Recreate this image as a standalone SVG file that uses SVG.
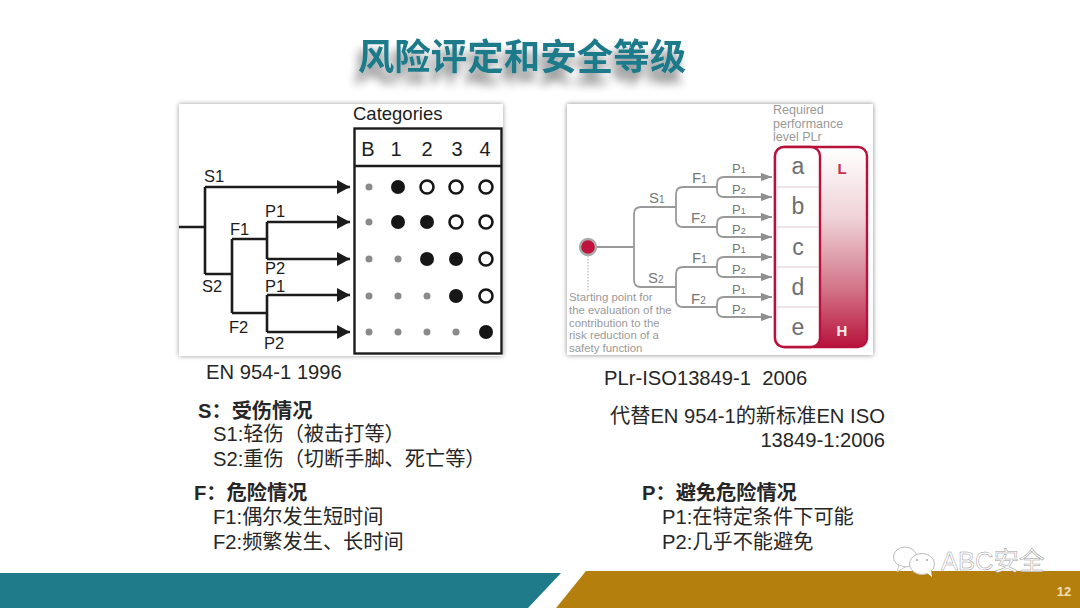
<svg xmlns="http://www.w3.org/2000/svg" width="1080" height="608" viewBox="0 0 1080 608">
<style>
.t{font-family:"Liberation Sans","Noto Sans CJK SC",sans-serif;fill:#262626;font-size:20.200px}
.b{font-weight:bold}
.l{font-family:"Liberation Sans",sans-serif;fill:#1c1c1c;font-size:16.500px}
.c{font-size:20px}
.k{fill:none;stroke:#1c1c1c;stroke-width:2.600}
.g{fill:none;stroke:#999;stroke-width:1.800}
.r{font-family:"Liberation Sans",sans-serif;fill:#6e6e6e;font-size:23px}
.s{font-family:"Liberation Sans",sans-serif;fill:#999;font-size:11.400px}
.q{font-family:"Liberation Sans",sans-serif;fill:#999;font-size:12.500px}
.d{fill:#8a8a8a}.f{fill:#161616}.o{fill:#fff;stroke:#161616;stroke-width:2.600}
</style>
<defs>
<filter id="bl" x="-10%" y="-10%" width="120%" height="120%"><feGaussianBlur stdDeviation="2.5"/></filter>
<filter id="tb" x="-10%" y="-60%" width="120%" height="240%"><feOffset in="SourceAlpha" dx="-4" dy="11"/><feGaussianBlur stdDeviation="5"/><feComponentTransfer result="sh"><feFuncA type="linear" slope=".5"/></feComponentTransfer><feMerge><feMergeNode in="sh"/><feMergeNode in="SourceGraphic"/></feMerge></filter>
<marker id="ka" markerUnits="userSpaceOnUse" markerWidth="13" markerHeight="14" refX="13" refY="7" orient="auto"><path d="M0 0L13 7L0 14Z" fill="#1c1c1c"/></marker>
<marker id="ga" markerUnits="userSpaceOnUse" markerWidth="11" markerHeight="8" refX="11" refY="4" orient="auto"><path d="M0 0L11 4L0 8Z" fill="#8f8f8f"/></marker>
<linearGradient id="pl" x1="0" y1="0" x2="0" y2="1"><stop offset="0" stop-color="#fff"/><stop offset=".35" stop-color="#efd3d8"/><stop offset=".7" stop-color="#d3778a"/><stop offset="1" stop-color="#b8123c"/></linearGradient>
</defs>
<rect width="1080" height="608" fill="#fff"/>
<g id="title">
<text x="522" y="70" text-anchor="middle" filter="url(#tb)" style="font-family:'Noto Sans CJK SC',sans-serif;font-size:36.500px;font-weight:bold;fill:#1f7a8a">风险评定和安全等级</text>
</g>
<g id="panel-left">
<rect x="179" y="104" width="324" height="252" fill="#999" filter="url(#bl)"/>
<rect x="179" y="104" width="324" height="252" fill="#fff"/>
<text class="l" x="353" y="120" style="font-size:18.500px">Categories</text>
<rect x="354.500" y="128.500" width="147" height="225" fill="#fff" stroke="#1c1c1c" stroke-width="2.400"/>
<path d="M354 166H502" stroke="#1c1c1c" stroke-width="2.400"/>
<g text-anchor="middle">
<text class="l c" x="368" y="156">B</text><text class="l c" x="396" y="156">1</text><text class="l c" x="427" y="156">2</text><text class="l c" x="457" y="156">3</text><text class="l c" x="485" y="156">4</text>
</g>
<g id="left-connectors">
<path class="k" d="M179 227H205M205 187V274M205 274H232M232 239V313M232 239H267M232 313H267"/>
<path class="k" d="M267 222V259M267 295V332"/>
<path class="k" marker-end="url(#ka)" d="M205 187H350"/>
<path class="k" marker-end="url(#ka)" d="M267 222H350"/>
<path class="k" marker-end="url(#ka)" d="M267 259H350"/>
<path class="k" marker-end="url(#ka)" d="M267 295H350"/>
<path class="k" marker-end="url(#ka)" d="M267 332H350"/>
</g>
<text class="l" x="204" y="182">S1</text><text class="l" x="202" y="292">S2</text>
<text class="l" x="230" y="235">F1</text><text class="l" x="229" y="333">F2</text>
<text class="l" x="265" y="217">P1</text><text class="l" x="265" y="274">P2</text>
<text class="l" x="265" y="292">P1</text><text class="l" x="264" y="349">P2</text>
<g id="dots">
<circle class="d" cx="369" cy="187" r="3.500"/><circle class="f" cx="398" cy="187" r="7"/><circle class="o" cx="427" cy="187" r="6.500"/><circle class="o" cx="456" cy="187" r="6.500"/><circle class="o" cx="486" cy="187" r="6.500"/>
<circle class="d" cx="369" cy="222" r="3.500"/><circle class="f" cx="398" cy="222" r="7"/><circle class="f" cx="427" cy="222" r="7"/><circle class="o" cx="456" cy="222" r="6.500"/><circle class="o" cx="486" cy="222" r="6.500"/>
<circle class="d" cx="369" cy="259" r="3.500"/><circle class="d" cx="398" cy="259" r="3.500"/><circle class="f" cx="427" cy="259" r="7"/><circle class="f" cx="456" cy="259" r="7"/><circle class="o" cx="486" cy="259" r="6.500"/>
<circle class="d" cx="369" cy="296" r="3.500"/><circle class="d" cx="398" cy="296" r="3.500"/><circle class="d" cx="427" cy="296" r="3.500"/><circle class="f" cx="456" cy="296" r="7"/><circle class="o" cx="486" cy="296" r="6.500"/>
<circle class="d" cx="369" cy="332" r="3.500"/><circle class="d" cx="398" cy="332" r="3.500"/><circle class="d" cx="427" cy="332" r="3.500"/><circle class="d" cx="456" cy="332" r="3.500"/><circle class="f" cx="486" cy="332" r="7"/>
</g>
</g>
<g id="panel-right">
<rect x="567" y="104" width="306" height="251" fill="#888" filter="url(#bl)"/>
<rect x="567" y="104" width="306" height="251" fill="#fff"/>
<text class="q" x="773" y="114">Required</text><text class="q" x="773" y="128">performance</text><text class="q" x="773" y="141">level PLr</text>
<rect x="775" y="147" width="92" height="200" rx="9" fill="url(#pl)" stroke="#b8123c" stroke-width="2.400"/>
<rect x="775" y="147" width="45" height="200" rx="9" fill="#fff" stroke="#b8123c" stroke-width="2.400"/>
<path d="M776 187H819M776 227H819M776 267H819M776 307H819" stroke="#e3c5cb" stroke-width="1"/>
<g text-anchor="middle">
<text class="r" x="798" y="174">a</text><text class="r" x="798" y="214">b</text><text class="r" x="798" y="255">c</text><text class="r" x="798" y="295">d</text><text class="r" x="798" y="335">e</text>
</g>
<text x="842" y="174" text-anchor="middle" style="font-family:'Liberation Sans',sans-serif;font-size:15px;font-weight:bold;fill:#c5304f">L</text>
<text x="842" y="336" text-anchor="middle" style="font-family:'Liberation Sans',sans-serif;font-size:15px;font-weight:bold;fill:#fbe9ec">H</text>
<circle cx="588" cy="247" r="8" fill="#c0143f" stroke="#aaa" stroke-width="2.400"/>
<path d="M588 256V292" stroke="#aaa" stroke-width="1" stroke-dasharray="1.500 1.500" fill="none"/>
<g id="right-connectors">
<path class="g" d="M597 247H634M641 207Q634 207 634 214V280Q634 287 641 287M641 207H676M641 287H676"/>
<path class="g" d="M683 187Q676 187 676 194V220Q676 227 683 227H717M683 187H717M683 267Q676 267 676 274V300Q676 307 683 307H717M683 267H717"/>
<path class="g" marker-end="url(#ga)" d="M717 187V184Q717 177 724 177H772"/>
<path class="g" marker-end="url(#ga)" d="M717 187V190Q717 197 724 197H772"/>
<path class="g" marker-end="url(#ga)" d="M717 227V224Q717 217 724 217H772"/>
<path class="g" marker-end="url(#ga)" d="M717 227V230Q717 237 724 237H772"/>
<path class="g" marker-end="url(#ga)" d="M717 267V264Q717 257 724 257H772"/>
<path class="g" marker-end="url(#ga)" d="M717 267V270Q717 277 724 277H772"/>
<path class="g" marker-end="url(#ga)" d="M717 307V304Q717 297 724 297H772"/>
<path class="g" marker-end="url(#ga)" d="M717 307V310Q717 317 724 317H772"/>
</g>
<g style="font-family:'Liberation Sans',sans-serif;font-size:15px;fill:#777">
<text x="649" y="203">S<tspan font-size="10">1</tspan></text><text x="648" y="283">S<tspan font-size="10">2</tspan></text>
<text x="692" y="183">F<tspan font-size="10">1</tspan></text><text x="691" y="223">F<tspan font-size="10">2</tspan></text><text x="692" y="263">F<tspan font-size="10">1</tspan></text><text x="691" y="304">F<tspan font-size="10">2</tspan></text>
<text x="732" y="173" font-size="13">P<tspan font-size="9">1</tspan></text><text x="732" y="194" font-size="13">P<tspan font-size="9">2</tspan></text>
<text x="732" y="214" font-size="13">P<tspan font-size="9">1</tspan></text><text x="732" y="234" font-size="13">P<tspan font-size="9">2</tspan></text>
<text x="732" y="253" font-size="13">P<tspan font-size="9">1</tspan></text><text x="732" y="274" font-size="13">P<tspan font-size="9">2</tspan></text>
<text x="732" y="294" font-size="13">P<tspan font-size="9">1</tspan></text><text x="732" y="314" font-size="13">P<tspan font-size="9">2</tspan></text>
</g>
<text class="s" x="569" y="301">Starting point for</text><text class="s" x="569" y="314">the evaluation of the</text><text class="s" x="569" y="327">contribution to the</text><text class="s" x="569" y="339">risk reduction of a</text><text class="s" x="569" y="352">safety function</text>
</g>
<g id="captions">
<text class="t" x="206" y="379">EN 954-1 1996</text>
<text class="t" x="604" y="385">PLr-ISO13849-1 &#160;2006</text>
<text class="t" x="610" y="423">代替EN 954-1的新标准EN ISO</text>
<text class="t" x="885" y="447" text-anchor="end">13849-1:2006</text>
</g>
<g id="legend-s">
<text class="t b" x="198" y="418">S：受伤情况</text>
<text class="t" x="213" y="441">S1:轻伤（被击打等）</text>
<text class="t" x="213" y="466">S2:重伤（切断手脚、死亡等）</text>
</g>
<g id="legend-f">
<text class="t b" x="194" y="500">F：危险情况</text>
<text class="t" x="213" y="524">F1:偶尔发生短时间</text>
<text class="t" x="213" y="549">F2:频繁发生、长时间</text>
</g>
<g id="legend-p">
<text class="t b" x="642" y="500">P：避免危险情况</text>
<text class="t" x="662" y="524">P1:在特定条件下可能</text>
<text class="t" x="662" y="549">P2:几乎不能避免</text>
</g>
<g id="footer">
<path d="M0 573H561L528 608H0Z" fill="#1f7a8a"/>
<path d="M586 571H1080V608H556Z" fill="#b57f0e"/>
<text x="1064" y="596" text-anchor="middle" style="font-family:'Liberation Sans',sans-serif;font-size:13px;font-weight:bold;fill:#f5deb0">12</text>
</g>
<g id="watermark">
<ellipse cx="905" cy="557" rx="11.500" ry="10" fill="#fff" stroke="#bbb" stroke-width="1"/>
<path d="M899 565L897 572L905 567Z" fill="#fff" stroke="#bbb" stroke-width=".8"/>
<ellipse cx="922" cy="564" rx="12.500" ry="10.500" fill="#fff" stroke="#bbb" stroke-width="1"/>
<path d="M927 573L932 577L931 570Z" fill="#fff"/>
<circle cx="917" cy="560" r="1.100" fill="#aaa"/><circle cx="927" cy="560" r="1.100" fill="#aaa"/>
<text x="941" y="570" style="font-family:'Liberation Sans','Noto Sans CJK SC',sans-serif;font-size:25.500px;fill:#fff;stroke:#999;stroke-width:.5">ABC安全</text>
</g>
</svg>
